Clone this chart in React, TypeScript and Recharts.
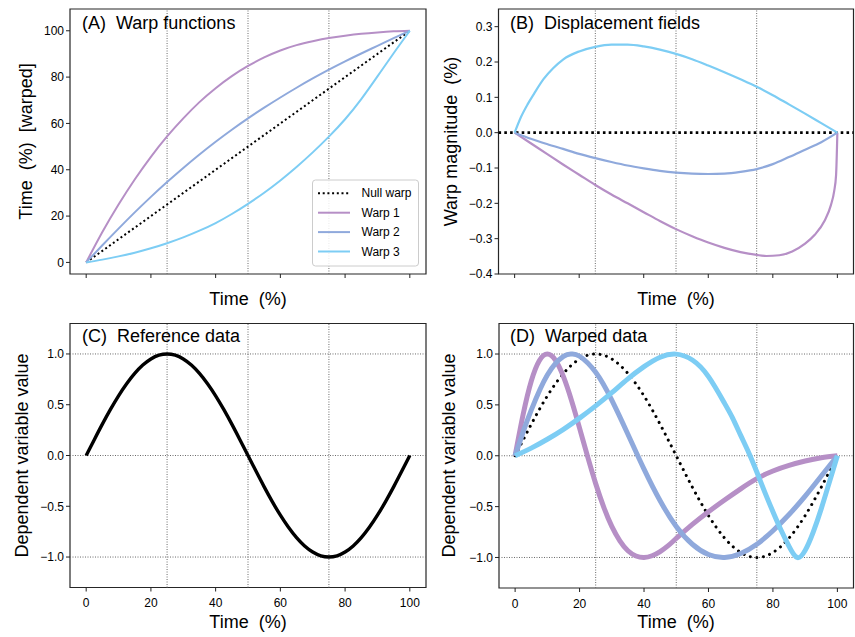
import React from 'react';
import { LineChart, Line, XAxis, YAxis, ReferenceLine, ReferenceArea } from 'recharts';

const FONT = '"Liberation Sans", Arial, Helvetica, sans-serif';
const C_NULL = '#000000';
const C_W1 = '#b68fc6';
const C_W2 = '#8fa9dc';
const C_W3 = '#7dcdf4';

// ---------- Panel A: warp functions ----------
const timeA = [0, 5, 10, 15, 20, 25, 30, 35, 40, 45, 50, 55, 60, 65, 70, 75, 80, 85, 90, 95, 100];
const nullWarpA = [0, 5, 10, 15, 20, 25, 30, 35, 40, 45, 50, 55, 60, 65, 70, 75, 80, 85, 90, 95, 100];
const warp1A = [0, 13.1, 25, 35.8, 45.6, 54.4, 62.2, 69.2, 75.2, 80.4, 84.8, 88.5, 91.5, 93.8, 95.5, 96.9, 97.9, 98.7, 99.3, 99.75, 100];
const warp2A = [0, 7.4, 14.6, 21.6, 28.3, 34.7, 40.8, 46.6, 52.1, 57.3, 62.2, 66.8, 71.2, 75.4, 79.4, 83.2, 86.8, 90.2, 93.5, 96.8, 100];
const warp3A = [0, 1.2, 2.6, 4.2, 6.1, 8.3, 10.8, 13.7, 17, 20.9, 25.3, 30.1, 35.4, 41.2, 47.5, 54.3, 61.8, 70.5, 80.3, 90.3, 100];

// ---------- Panel B: displacement fields ----------
const timeB1 = [0, 5, 10, 15, 20, 25, 30, 35, 40, 45, 50, 55, 60, 65, 70, 75, 78, 82, 86, 90, 93, 96, 98, 99, 99.6, 100];
const disp1 = [0, -0.03, -0.06, -0.09, -0.119, -0.148, -0.175, -0.2, -0.225, -0.25, -0.273, -0.293, -0.311, -0.326, -0.338, -0.346, -0.349, -0.347, -0.336, -0.314, -0.289, -0.25, -0.205, -0.166, -0.12, 0];
const timeB2 = [0, 5, 10, 15, 20, 25, 30, 35, 40, 45, 50, 55, 60, 65, 70, 75, 80, 85, 90, 95, 100];
const disp2 = [0, -0.017, -0.032, -0.046, -0.06, -0.072, -0.083, -0.093, -0.101, -0.108, -0.113, -0.116, -0.117, -0.116, -0.111, -0.103, -0.089, -0.069, -0.048, -0.027, 0];
const timeB3 = [0, 2, 4, 6, 9, 12, 15, 20, 25, 30, 35, 40, 45, 50, 55, 60, 65, 70, 75, 80, 85, 90, 95, 100];
const disp3 = [0, 0.045, 0.08, 0.11, 0.152, 0.183, 0.207, 0.23, 0.243, 0.249, 0.249, 0.244, 0.235, 0.223, 0.208, 0.19, 0.171, 0.151, 0.13, 0.106, 0.08, 0.054, 0.027, 0];

// ---------- Panel C: reference data ----------
const timeC = [0, 2.5, 5, 7.5, 10, 12.5, 15, 17.5, 20, 22.5, 25, 27.5, 30, 32.5, 35, 37.5, 40, 42.5, 45, 47.5, 50, 52.5, 55, 57.5, 60, 62.5, 65, 67.5, 70, 72.5, 75, 77.5, 80, 82.5, 85, 87.5, 90, 92.5, 95, 97.5, 100];
const refData = [0, 0.156, 0.309, 0.454, 0.588, 0.707, 0.809, 0.891, 0.951, 0.988, 1, 0.988, 0.951, 0.891, 0.809, 0.707, 0.588, 0.454, 0.309, 0.156, 0, -0.156, -0.309, -0.454, -0.588, -0.707, -0.809, -0.891, -0.951, -0.988, -1, -0.988, -0.951, -0.891, -0.809, -0.707, -0.588, -0.454, -0.309, -0.156, 0];

// ---------- Panel D: warped data ----------
const timeD1 = [0, 2.5, 5, 7.5, 10, 12.5, 15, 17.5, 20, 22.5, 25, 27.5, 30, 32.5, 35, 37.5, 40, 42.5, 45, 47.5, 50, 55, 60, 65, 70, 75, 80, 85, 90, 95, 100];
const warped1 = [0, 0.407, 0.732, 0.934, 1, 0.94, 0.777, 0.543, 0.272, -0.009, -0.274, -0.505, -0.695, -0.836, -0.934, -0.985, -1, -0.983, -0.942, -0.884, -0.813, -0.675, -0.55, -0.435, -0.325, -0.225, -0.15, -0.095, -0.052, -0.02, 0];
const timeD2 = [0, 2.5, 5, 10, 15, 17.5, 20, 25, 30, 35, 40, 45, 50, 55, 60, 65, 70, 75, 80, 85, 90, 95, 100];
const warped2 = [0, 0.235, 0.448, 0.794, 0.977, 1, 0.978, 0.82, 0.547, 0.212, -0.132, -0.443, -0.695, -0.87, -0.971, -1, -0.961, -0.87, -0.737, -0.578, -0.397, -0.199, 0];
const timeD3 = [0, 5, 10, 15, 20, 25, 30, 35, 40, 45, 50, 55, 60, 65, 67.5, 70, 72.5, 75, 77.5, 80, 82.5, 85, 87.5, 90, 92.5, 95, 97.5, 100];
const warped3 = [0, 0.075, 0.162, 0.26, 0.37, 0.49, 0.62, 0.756, 0.876, 0.969, 0.999, 0.941, 0.778, 0.515, 0.37, 0.2, 0.03, -0.16, -0.36, -0.55, -0.73, -0.89, -1, -0.93, -0.75, -0.52, -0.26, 0];

// ---------- ticks ----------
const xTicks = [0, 20, 40, 60, 80, 100];
const yTicksA = [0, 20, 40, 60, 80, 100];
const yTicksB = [-0.4, -0.3, -0.2, -0.1, 0, 0.1, 0.2, 0.3];
const yTicksCD = [-1, -0.5, 0, 0.5, 1];
const guideX = [25, 50, 75];
const guideY = [-1, 0, 1];

const legendItems = [
  { label: 'Null warp', color: C_NULL, dash: '2 2.7' },
  { label: 'Warp 1', color: C_W1 },
  { label: 'Warp 2', color: C_W2 },
  { label: 'Warp 3', color: C_W3 },
];

const zip = (t: number[], v: number[]) => t.map((x, i) => ({ t: x, v: v[i] }));
const fmt1 = (v: number) => (Math.abs(v) < 1e-9 ? '0.0' : v.toFixed(1)).replace('-', '\u2212');
const fmtInt = (v: number) => String(v);

type Series = { data: { t: number; v: number }[]; color: string; width: number; dash?: string; cap?: 'round' | 'butt'; curve?: 'natural' | 'monotone' };

type PanelProps = {
  left: number; top: number; width: number; height: number;
  mTop: number; mRight: number; yWidth: number; xHeight: number;
  yDomain: [number, number]; yTicks: number[]; yFmt: (v: number) => string;
  xLabels: boolean; series: Series[]; vRefs: number[]; hRefs: number[]; nullZero?: boolean;
};

const tickStyle = { fontSize: 12, fill: '#000', fontFamily: FONT };

function Panel(p: PanelProps) {
  return (
    <div style={{ position: 'absolute', left: p.left, top: p.top, width: p.width, height: p.height }}>
      <LineChart width={p.width} height={p.height} margin={{ top: p.mTop, right: p.mRight, left: 0, bottom: 0 }}>
        <XAxis
          dataKey="t" type="number" domain={[-5, 105]} ticks={xTicks} interval={0} allowDataOverflow
          height={p.xHeight} axisLine={false} tickLine={{ stroke: '#222' }} tickSize={4} tickMargin={7}
          tick={tickStyle} tickFormatter={p.xLabels ? fmtInt : () => ''}
        />
        <YAxis
          type="number" domain={p.yDomain} ticks={p.yTicks} interval={0} allowDataOverflow
          width={p.yWidth} axisLine={false} tickLine={{ stroke: '#222' }} tickSize={4} tickMargin={2}
          tick={tickStyle} tickFormatter={p.yFmt}
        />
        {p.vRefs.map((x) => (
          <ReferenceLine key={'v' + x} x={x} stroke="#6a6a6a" strokeWidth={1} strokeDasharray="1 1.5" />
        ))}
        {p.hRefs.map((y) => (
          <ReferenceLine key={'h' + y} y={y} stroke="#6a6a6a" strokeWidth={1} strokeDasharray="1 1.5" />
        ))}
        {p.nullZero && (
          <ReferenceLine y={0} stroke="#000" strokeWidth={2.6} strokeDasharray="2.6 3.2" />
        )}
        {p.series.map((s, i) => (
          <Line
            key={i} data={s.data} dataKey="v" type={s.curve || 'natural'} stroke={s.color} strokeWidth={s.width}
            strokeDasharray={s.dash} strokeLinecap={s.cap || 'butt'} dot={false} activeDot={false}
            isAnimationActive={false}
          />
        ))}
        <ReferenceArea
          x1={-5} x2={105} y1={p.yDomain[0]} y2={p.yDomain[1]} fill="none" fillOpacity={0}
          stroke="#262626" strokeWidth={1.2} ifOverflow="visible"
        />
      </LineChart>
    </div>
  );
}

const titleStyle: React.CSSProperties = { whiteSpace: 'pre' };

export default function App() {
  return (
    <div style={{ position: 'absolute', left: 0, top: 0, width: 855, height: 637, background: '#fff', fontFamily: FONT }}>
      <Panel
        left={0} top={0} width={430} height={310} mTop={9} mRight={4} yWidth={70} xHeight={36}
        yDomain={[-5, 109.4]} yTicks={yTicksA} yFmt={fmtInt} xLabels={false}
        vRefs={guideX} hRefs={[]}
        series={[
          { data: zip(timeA, nullWarpA), color: C_NULL, width: 2, dash: '2 2.7' },
          { data: zip(timeA, warp1A), color: C_W1, width: 2 },
          { data: zip(timeA, warp2A), color: C_W2, width: 2 },
          { data: zip(timeA, warp3A), color: C_W3, width: 2 },
        ]}
      />
      <Panel
        left={430} top={0} width={425} height={310} mTop={9} mRight={1.5} yWidth={68.5} xHeight={36}
        yDomain={[-0.4, 0.35]} yTicks={yTicksB} yFmt={fmt1} xLabels={false}
        vRefs={guideX} hRefs={[]} nullZero
        series={[
          { data: zip(timeB1, disp1), color: C_W1, width: 2.2, curve: 'monotone' },
          { data: zip(timeB2, disp2), color: C_W2, width: 2.2, curve: 'monotone' },
          { data: zip(timeB3, disp3), color: C_W3, width: 2.2, curve: 'monotone' },
        ]}
      />
      <Panel
        left={0} top={310} width={430} height={327} mTop={13.5} mRight={4} yWidth={70} xHeight={49.5}
        yDomain={[-1.3, 1.3]} yTicks={yTicksCD} yFmt={fmt1} xLabels
        vRefs={guideX} hRefs={guideY}
        series={[{ data: zip(timeC, refData), color: '#000', width: 3.4 }]}
      />
      <Panel
        left={430} top={310} width={425} height={327} mTop={13.5} mRight={1.5} yWidth={69} xHeight={49}
        yDomain={[-1.3, 1.3]} yTicks={yTicksCD} yFmt={fmt1} xLabels
        vRefs={guideX} hRefs={guideY}
        series={[
          { data: zip(timeC, refData), color: C_NULL, width: 3, dash: '0.01 6.6', cap: 'round' },
          { data: zip(timeD1, warped1), color: C_W1, width: 5 },
          { data: zip(timeD2, warped2), color: C_W2, width: 5 },
          { data: zip(timeD3, warped3), color: C_W3, width: 5 },
        ]}
      />
      <svg width={855} height={637} style={{ position: 'absolute', left: 0, top: 0, pointerEvents: 'none' }}>
        <g fontFamily={FONT} fill="#000">
          <text x={82} y={29} fontSize={18} style={titleStyle}>(A)  Warp functions</text>
          <text x={510} y={29} fontSize={18} style={titleStyle}>(B)  Displacement fields</text>
          <text x={82} y={342} fontSize={18} style={titleStyle}>(C)  Reference data</text>
          <text x={510} y={342} fontSize={18} style={titleStyle}>(D)  Warped data</text>

          <text x={248} y={305} fontSize={18} textAnchor="middle" style={titleStyle}>Time  (%)</text>
          <text x={676} y={305} fontSize={18} textAnchor="middle" style={titleStyle}>Time  (%)</text>
          <text x={248} y={628} fontSize={18} textAnchor="middle" style={titleStyle}>Time  (%)</text>
          <text x={676} y={628} fontSize={18} textAnchor="middle" style={titleStyle}>Time  (%)</text>

          <text x={26} y={141.5} fontSize={18} textAnchor="middle" dominantBaseline="central" transform="rotate(-90 26 141.5)" style={titleStyle}>Time  (%)  [warped]</text>
          <text x={451} y={141.5} fontSize={18} textAnchor="middle" dominantBaseline="central" transform="rotate(-90 451 141.5)" style={titleStyle}>Warp magnitude  (%)</text>
          <text x={21.5} y={455.5} fontSize={18} textAnchor="middle" dominantBaseline="central" transform="rotate(-90 21.5 455.5)" style={titleStyle}>Dependent variable value</text>
          <text x={449} y={455.5} fontSize={18} textAnchor="middle" dominantBaseline="central" transform="rotate(-90 449 455.5)" style={titleStyle}>Dependent variable value</text>
        </g>
        <g>
          <rect x={312.5} y={180} width={106} height={86} rx={3} fill="#fff" fillOpacity={0.85} stroke="#cccccc" strokeWidth={1} />
          {legendItems.map((it, i) => {
            const cy = 193.3 + i * 19.4;
            return (
              <g key={it.label}>
                <line x1={318} x2={350} y1={cy} y2={cy} stroke={it.color} strokeWidth={2} strokeDasharray={it.dash} />
                <text x={361.5} y={cy} fontSize={12} fontFamily={FONT} dominantBaseline="central" fill="#000">{it.label}</text>
              </g>
            );
          })}
        </g>
      </svg>
    </div>
  );
}
